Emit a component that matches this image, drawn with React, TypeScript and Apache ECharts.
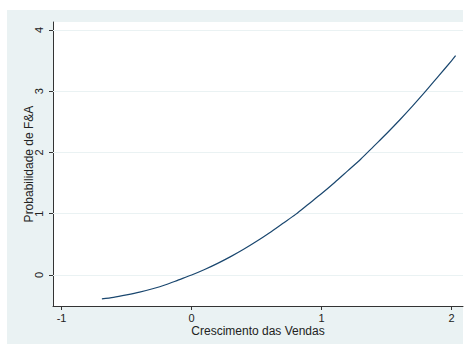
import React, { useEffect, useRef } from "react";
import * as echarts from "echarts";

const xValues = [-0.69, -0.6, -0.5, -0.4, -0.3, -0.2, -0.1, 0, 0.1, 0.2, 0.3, 0.4, 0.5, 0.6, 0.7, 0.8, 0.9, 1.0, 1.1, 1.2, 1.3, 1.4, 1.5, 1.6, 1.7, 1.8, 1.9, 2.0, 2.03];
const yValues = [-0.39, -0.365, -0.325, -0.28, -0.225, -0.16, -0.08, 0, 0.09, 0.19, 0.3, 0.42, 0.55, 0.69, 0.84, 0.99, 1.16, 1.33, 1.51, 1.7, 1.89, 2.1, 2.31, 2.53, 2.76, 3.0, 3.25, 3.5, 3.58];
const xTicks = [-1, 0, 1, 2];
const yTicks = [0, 1, 2, 3, 4];
const xTitle = "Crescimento das Vendas";
const yTitle = "Probabilidade de F&A";

export default function App() {
  const ref = useRef<HTMLDivElement>(null);
  useEffect(() => {
    const chart = echarts.init(ref.current!, undefined, { renderer: "svg" });
    const font = "Liberation Sans, Arial, sans-serif";
    chart.setOption({
      animation: false,
      graphic: [
        {
          type: "rect",
          z: -10,
          silent: true,
          shape: { x: 7, y: 10, width: 456, height: 334 },
          style: { fill: "#eaf2f3" },
        },
      ],
      grid: {
        left: 53,
        right: 2,
        top: 22,
        bottom: 38,
        show: true,
        backgroundColor: "#ffffff",
        borderWidth: 0,
      },
      xAxis: {
        type: "value",
        min: -1.066,
        max: 2.087,
        name: xTitle,
        nameLocation: "middle",
        nameGap: 19,
        nameMoveOverlap: false,
        nameTextStyle: { fontFamily: font, fontSize: 12, color: "#222" },
        axisLine: { show: true, onZero: false, lineStyle: { color: "#333", width: 1 } },
        axisTick: { show: true, customValues: xTicks, length: 4, lineStyle: { color: "#333" } },
        axisLabel: { customValues: xTicks, margin: 6, fontFamily: font, fontSize: 11, color: "#222" },
        splitLine: { show: false },
      },
      yAxis: {
        type: "value",
        min: -0.506,
        max: 4.13,
        name: yTitle,
        nameLocation: "middle",
        nameGap: 18,
        nameMoveOverlap: false,
        nameTextStyle: { fontFamily: font, fontSize: 12, color: "#222" },
        axisLine: { show: true, onZero: false, lineStyle: { color: "#333", width: 1 } },
        axisTick: { show: true, customValues: yTicks, length: 4, lineStyle: { color: "#333" } },
        axisLabel: { customValues: yTicks, rotate: 90, margin: 9, fontFamily: font, fontSize: 11, color: "#222" },
        splitLine: { show: false },
      },
      series: [
        {
          type: "line",
          data: xValues.map((x, i) => [x, yValues[i]]),
          showSymbol: false,
          smooth: 0.3,
          lineStyle: { color: "#1a476f", width: 1.2 },
          markLine: {
            silent: true,
            symbol: "none",
            label: { show: false },
            lineStyle: { color: "#eaf2f3", width: 1, type: "solid" },
            data: yTicks.map((v) => ({ yAxis: v })),
            z: 1,
          },
        },
      ],
    });
    return () => chart.dispose();
  }, []);
  return (
    <div
      ref={ref}
      style={{ position: "absolute", left: 0, top: 0, width: 465, height: 344 }}
    />
  );
}
